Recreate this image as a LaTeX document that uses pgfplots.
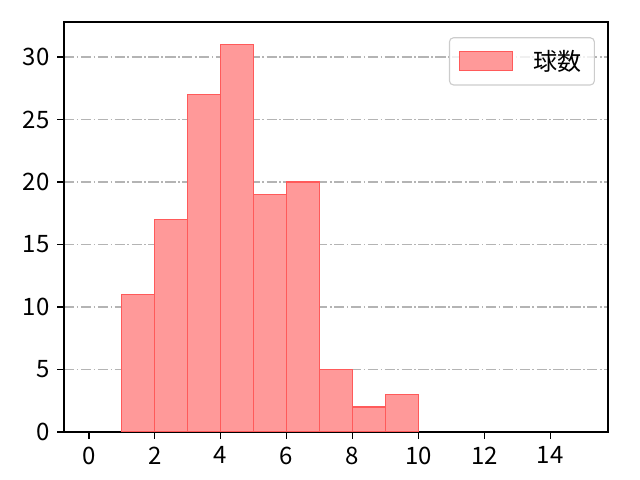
\documentclass[border=0pt]{standalone}
\usepackage{fontspec}
\setmainfont{Noto Sans CJK JP}
\usepackage{pgfplots}
\pgfplotsset{compat=1.18}
\definecolor{barfill}{RGB}{255,153,153}
\definecolor{baredge}{RGB}{255,90,90}
\definecolor{gridgray}{RGB}{180,180,180}
\definecolor{legframe}{RGB}{204,204,204}
\begin{document}
\begin{tikzpicture}
\useasboundingbox (0pt,0pt) rectangle (460.8pt,345.6pt);
\begin{axis}[
    at={(46.08pt,34.56pt)}, anchor=south west,
    scale only axis,
    width=391.68pt, height=295.2pt,
    xmin=-0.75, xmax=15.75,
    ymin=0, ymax=32.8,
    xtick={0,2,...,14},
    ytick={0,5,...,30},
    tick align=outside,
    major tick length=5pt,
    tick style={black, line width=1.15pt},
    axis line style={line width=1.15pt},
    xtick pos=bottom, ytick pos=left,
    ymajorgrids,
    major grid style={gridgray, line width=1.1pt, dash pattern=on 7.4pt off 1.8pt on 1.15pt off 1.8pt},
    tick label style={font=\fontsize{17.28}{20}\selectfont},
    /pgf/number format/assume math mode=true,
    xticklabel style={yshift=-2pt},
    yticklabel style={xshift=-2pt},
    legend style={at={(0.976,0.963)}, anchor=north east,
        draw=legframe, line width=0.8pt, rounded corners=3pt,
        fill=white, fill opacity=0.8, text opacity=1,
        font=\fontsize{17.28}{20}\selectfont,
        inner xsep=7pt, inner ysep=7pt},
    legend image code/.code={\draw[sharp corners, fill opacity=1, fill=barfill, draw=baredge, line width=0.8pt] (0pt,-6.8pt) rectangle (38pt,6.8pt);},
    legend cell align=left,
]
\addplot[ybar interval, fill=barfill, draw=baredge, line width=1pt] coordinates {
    (1,11) (2,17) (3,27) (4,31) (5,19) (6,20) (7,5) (8,2) (9,3) (10,3)
};
\addlegendentry{\hspace{13pt}球数}
\end{axis}
\end{tikzpicture}
\end{document}
